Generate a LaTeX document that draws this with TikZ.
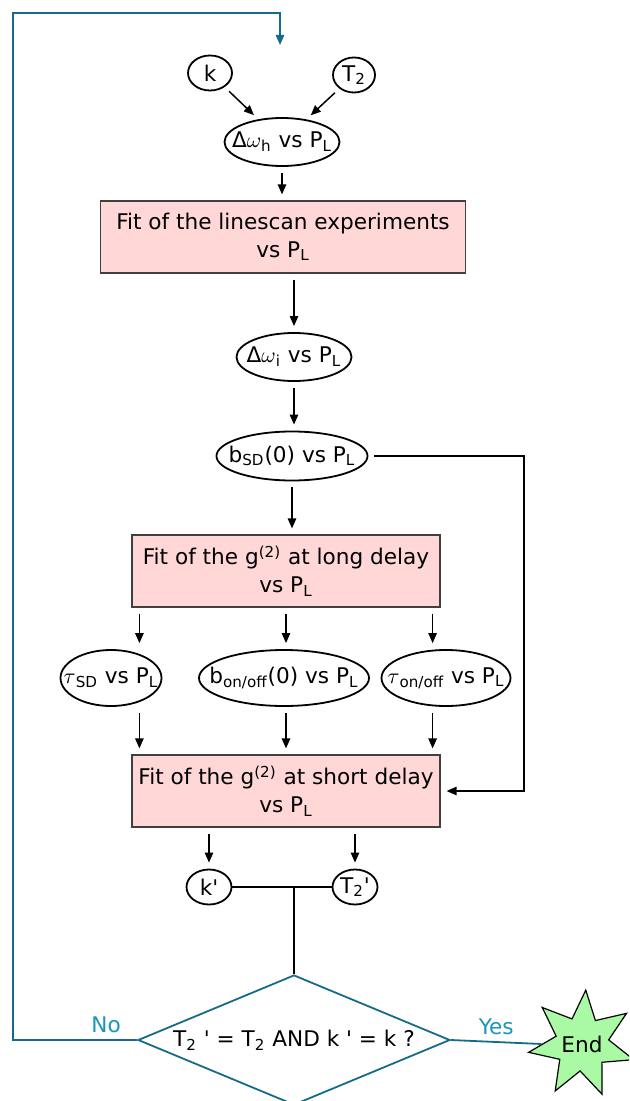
\documentclass[tikz,border=0pt]{standalone}
\usepackage{fontspec}
\setmainfont{DejaVu Sans}
\usetikzlibrary{positioning, arrows.meta, shapes.geometric}

\definecolor{loopteal}{RGB}{20,108,138}
\definecolor{answerteal}{RGB}{25,150,185}
\definecolor{fitpink}{RGB}{255,215,215}
\definecolor{endgreen}{RGB}{170,250,165}

% zero-width text, so that the shape keeps the size it is given
\newcommand{\inshape}[1]{\makebox[0pt][c]{#1}}
\newcommand{\prm}{\textquotesingle}
\newcommand{\vsPL}{vs P\textsubscript{L}}

\begin{document}
\begin{tikzpicture}[
    x=0.5pt, y=-0.5pt,
    % Clean styles
    fitbox/.style={
        rectangle,
        draw=black!75,
        line width=0.6pt,
        fill=fitpink,
        minimum height=36pt,
        inner sep=0pt,
        align=center,
        font=\fontsize{10.8}{14}\selectfont
    },
    valnode/.style={
        ellipse,
        draw=black,
        line width=0.9pt,
        inner sep=0pt,
        font=\fontsize{10.8}{13}\selectfont
    },
    arrow/.style={
        -{Triangle[length=5pt, width=4.2pt]},
        line width=0.75pt,
        shorten <=3pt,
        shorten >=3pt
    },
    plain/.style={
        line width=0.75pt
    },
    loopline/.style={
        draw=loopteal,
        line width=0.9pt
    },
    answer/.style={
        text=answerteal,
        font=\fontsize{10.8}{13}\selectfont
    }
]
\clip (0,0) rectangle (629,1101);

% === Inputs ===
\node[valnode, minimum width=22pt, minimum height=17.5pt] (k) at (210,73) {\inshape{k}};
\node[valnode, minimum width=21pt, minimum height=17.5pt] (t2) at (354,75) {\inshape{T\textsubscript{2}}};
\node[valnode, minimum width=57.5pt, minimum height=24pt] (dwh) at (282,142)
    {\inshape{Δ\(\omega\)\textsubscript{h} \vsPL}};

% === Linescan fit ===
\node[fitbox, minimum width=182.5pt] (linefit) at (283,237)
    {Fit of the linescan experiments\\\vsPL};
\node[valnode, minimum width=57.5pt, minimum height=24pt] (dwi) at (294,357)
    {\inshape{Δ\(\omega\)\textsubscript{i} \vsPL}};
\node[valnode, minimum width=75.5pt, minimum height=24.5pt] (bsd) at (292,456)
    {\inshape{b\textsubscript{SD}(0) \vsPL}};

% === Long delay fit ===
\node[fitbox, minimum width=154pt] (longfit) at (286,571)
    {Fit of the g\textsuperscript{(2)} at long delay\\\vsPL};
\node[valnode, minimum width=50.5pt, minimum height=28pt] (tausd) at (111,678)
    {\inshape{\(\tau\)\textsubscript{SD} \vsPL}};
\node[valnode, minimum width=85pt, minimum height=28pt] (bonoff) at (284,678)
    {\inshape{b\textsubscript{on/off}(0) \vsPL}};
\node[valnode, minimum width=64.5pt, minimum height=28pt] (tauonoff) at (446,678)
    {\inshape{\(\tau\)\textsubscript{on/off} \vsPL}};

% === Short delay fit ===
\node[fitbox, minimum width=154pt] (shortfit) at (286,791)
    {Fit of the g\textsuperscript{(2)} at short delay\\\vsPL};
\node[valnode, minimum width=22.5pt, minimum height=17.5pt] (kout) at (209,887) {\inshape{k\prm}};
\node[valnode, minimum width=22.5pt, minimum height=17.5pt] (t2out) at (355,887) {\inshape{T\textsubscript{2}\prm}};

% === Decision ===
\node[diamond, draw=loopteal, line width=0.9pt, inner sep=0pt,
      minimum width=156pt, minimum height=65pt,
      font=\fontsize{10.8}{13}\selectfont] (check) at (294,1040)
    {\inshape{T\textsubscript{2} \prm{} = T\textsubscript{2} AND k \prm{} = k ?}};
\node[star, star points=7, star point ratio=2, draw=black, line width=0.6pt,
      fill=endgreen, minimum size=54pt, inner sep=0pt, shape border rotate=-4,
      font=\fontsize{10.8}{13}\selectfont] (done) at (582,1044) {\inshape{End}};

\coordinate (loopin) at (280,45);
\coordinate (looptop) at (13,13);
\coordinate (sidebend) at (524,791);

% === Arrows ===
\draw[arrow] (k) -- (dwh);
\draw[arrow] (t2) -- (dwh);
\draw[arrow] (dwh.south) -- (dwh.south |- linefit.north);
\draw[arrow] (dwi.north |- linefit.south) -- (dwi.north);
\draw[arrow] (dwi.south) -- (dwi.south |- bsd.north);
\draw[arrow] (bsd.south) -- (bsd.south |- longfit.north);
\draw[arrow] (bsd.east) -| (sidebend) -- (shortfit.east);

\draw[arrow] ([xshift=4pt]longfit.south west) -- ([xshift=4pt]longfit.south west |- tausd.north);
\draw[arrow] (longfit.south) -- (longfit.south |- bonoff.north);
\draw[arrow] ([xshift=-4pt]longfit.south east) -- ([xshift=-4pt]longfit.south east |- tauonoff.north);
\draw[arrow] ([xshift=4pt]shortfit.north west |- tausd.south) -- ([xshift=4pt]shortfit.north west);
\draw[arrow] (shortfit.north |- bonoff.south) -- (shortfit.north);
\draw[arrow] ([xshift=-4pt]shortfit.north east |- tauonoff.south) -- ([xshift=-4pt]shortfit.north east);

\draw[arrow] (kout.north |- shortfit.south) -- (kout.north);
\draw[arrow] (t2out.north |- shortfit.south) -- (t2out.north);
\draw[plain] (kout.east) -- (t2out.west);
\draw[plain] (check.north |- kout.east) -- (check.north);

% === Loop back ===
\draw[loopline, -{Triangle[length=5pt, width=4.2pt]}] (check.west)
    -- node[answer, above, pos=0.25] {No} (check.west -| looptop)
    -- (looptop) -| (loopin);
\draw[loopline] (check.east) -- node[answer, above] {Yes} (done.west);

\end{tikzpicture}
\end{document}
